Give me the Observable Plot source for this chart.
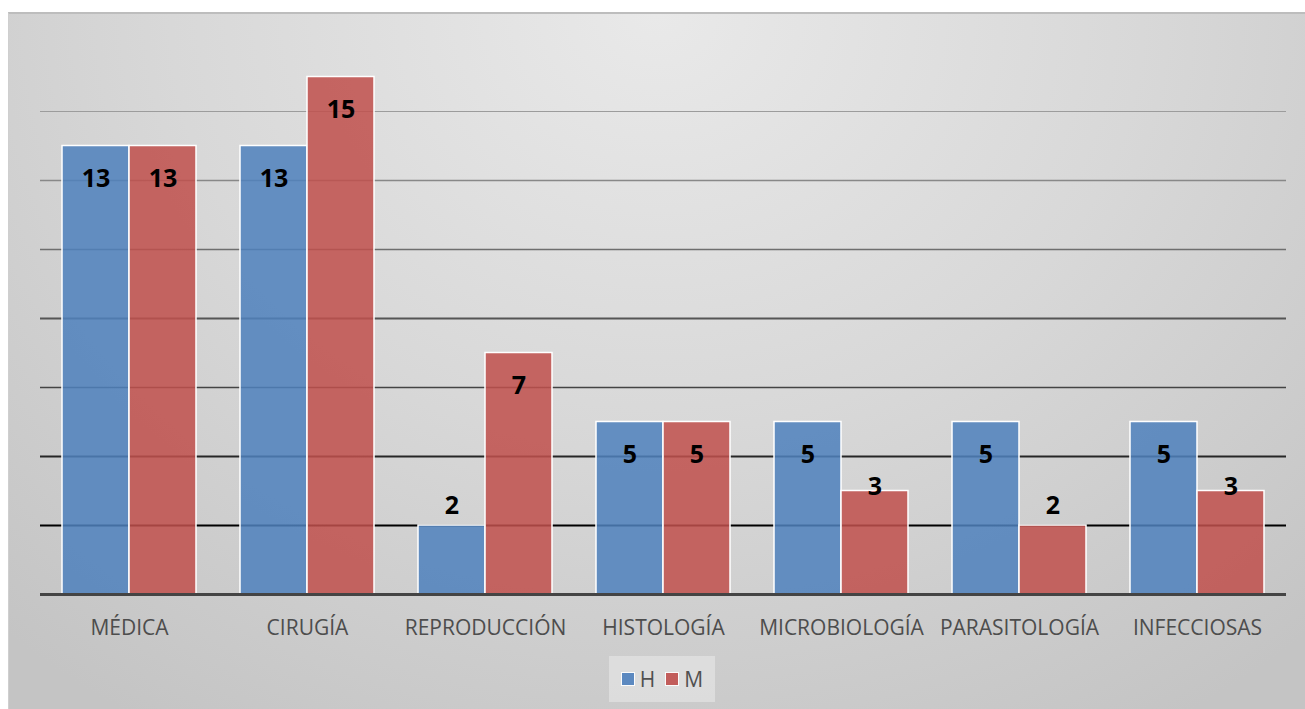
<!DOCTYPE html>
<html>
<head>
<meta charset="utf-8">
<script src="https://cdn.jsdelivr.net/npm/d3@7"></script>
<script src="https://cdn.jsdelivr.net/npm/@observablehq/plot@0.6"></script>
<style>
  html, body { margin: 0; padding: 0; background: #ffffff; }
  body { width: 1305px; height: 709px; overflow: hidden; position: relative; font-family: "Open Sans", sans-serif; }
  #panel {
    position: absolute; left: 8px; top: 12px; width: 1297px; height: 697px;
    border-top: 2px solid #bdbdbd; border-left: 1px solid #cfcfcf;
    background: radial-gradient(ellipse 75% 120% at 50% 0%, #e9e9e9 0%, #d8d8d8 50%, #c4c4c4 100%);
    box-sizing: border-box;
  }
  #chart svg { display: block; }
  #legend {
    margin-left: 600px; margin-top: 10px; width: 106px; height: 46px;
    background: rgba(235,235,235,0.55); display: flex; align-items: center; justify-content: center; gap: 0px;
    box-sizing: border-box;
  }
  .item { display: flex; align-items: center; font-size: 21px; color: #505050; margin: 0 5px; }
  .sw { width: 12px; height: 12px; border: 1px solid #fff; margin-right: 5px; }
</style>
</head>
<body>
<div id="panel">
  <div id="chart"></div>
  <div id="legend"></div>
</div>
<script>
const categories = ["MÉDICA", "CIRUGÍA", "REPRODUCCIÓN", "HISTOLOGÍA", "MICROBIOLOGÍA", "PARASITOLOGÍA", "INFECCIOSAS"];
const seriesNames = ["H", "M"];
const valuesH = [13, 13, 2, 5, 5, 5, 5];
const valuesM = [13, 15, 7, 5, 3, 2, 3];
const gridTicks = [2, 4, 6, 8, 10, 12, 14];
const seriesColors = ["#4F81BD", "#C0504D"];

const data = categories.flatMap((c, i) => [
  {category: c, series: "H", value: valuesH[i]},
  {category: c, series: "M", value: valuesM[i]}
]);

const gridStyle = {
  2: ["#000000", 2], 4: ["#262626", 2], 6: ["#444444", 1.5], 8: ["#555555", 2],
  10: ["#6e6e6e", 1.5], 12: ["#888888", 1.5], 14: ["#9c9c9c", 1]
};

const labelStyle = {fx: "category", x: "series", y: "value", text: d => String(d.value), fontSize: 25, fontWeight: "bold", fill: "#000", lineAnchor: "middle"};

const chart = Plot.plot({
  width: 1296,
  height: 632,
  marginLeft: 29,
  marginRight: 17,
  marginTop: 28,
  marginBottom: 52,
  style: {background: "transparent", fontFamily: "'Open Sans', sans-serif", overflow: "visible"},
  fx: {domain: categories, padding: 0, label: null, axis: null},
  x: {domain: seriesNames, paddingInner: 0, paddingOuter: 0.32, axis: null},
  y: {domain: [0, 16], axis: null},
  color: {domain: seriesNames, range: seriesColors},
  marks: [
    ...gridTicks.map(t => Plot.ruleY([t], {stroke: gridStyle[t][0], strokeWidth: gridStyle[t][1]})),
    Plot.barY(data, {fx: "category", x: "series", y: "value", fill: "series", fillOpacity: 0.86, stroke: "#ffffff", strokeWidth: 1.5}),
    Plot.ruleY([0], {stroke: "#444444", strokeWidth: 3}),
    Plot.text(data, {...labelStyle, filter: d => d.value >= 5, dy: 33}),
    Plot.text(data, {...labelStyle, filter: d => d.value === 3, dy: -4}),
    Plot.text(data, {...labelStyle, filter: d => d.value === 2, dy: -20}),
    Plot.axisFx({anchor: "bottom", tickSize: 0, tickPadding: 26, fontSize: 21, fill: "#4d4d4d", label: null})
  ]
});
document.getElementById("chart").appendChild(chart);

const legend = document.getElementById("legend");
seriesNames.forEach((s, i) => {
  const item = document.createElement("div");
  item.className = "item";
  const sw = document.createElement("div");
  sw.className = "sw";
  sw.style.background = seriesColors[i];
  sw.style.opacity = 0.9;
  const label = document.createElement("span");
  label.textContent = s;
  item.appendChild(sw);
  item.appendChild(label);
  legend.appendChild(item);
});
</script>
</body>
</html>
